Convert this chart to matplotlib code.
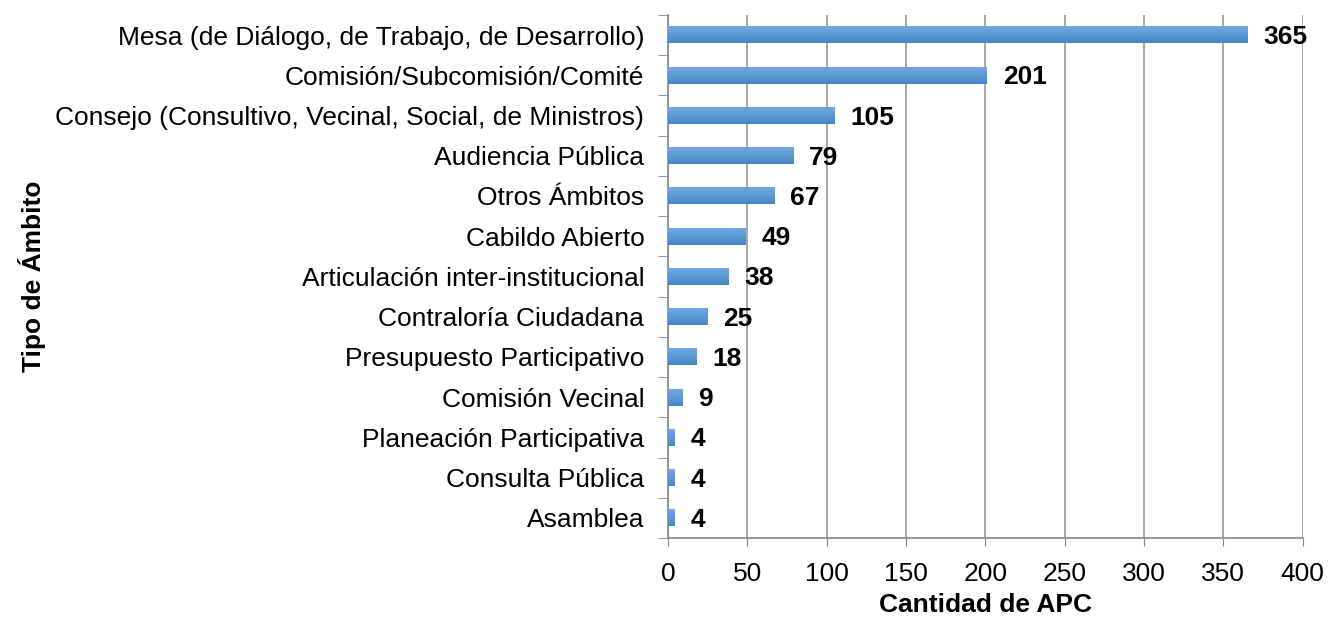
import numpy as np
import matplotlib
matplotlib.use("Agg")
import matplotlib.pyplot as plt
from matplotlib.colors import LinearSegmentedColormap

plt.rcParams['font.family'] = ['Liberation Sans', 'DejaVu Sans']

# data (top to bottom as shown)
categories = [
    "Mesa (de Diálogo, de Trabajo, de Desarrollo)",
    "Comisión/Subcomisión/Comité",
    "Consejo (Consultivo, Vecinal, Social, de Ministros)",
    "Audiencia Pública",
    "Otros Ámbitos",
    "Cabildo Abierto",
    "Articulación inter-institucional",
    "Contraloría Ciudadana",
    "Presupuesto Participativo",
    "Comisión Vecinal",
    "Planeación Participativa",
    "Consulta Pública",
    "Asamblea",
]
values = [365, 201, 105, 79, 67, 49, 38, 25, 18, 9, 4, 4, 4]
xticks = [0, 50, 100, 150, 200, 250, 300, 350, 400]

fig = plt.figure(figsize=(13.28, 6.18), dpi=100)
ax = fig.add_axes([0.503, 0.1294, 0.478, 0.8465])

n = len(categories)
ypos = np.arange(n)[::-1]
bar_h = 0.42

# gradient fill for bars: lighter top, darker bottom
cmap = LinearSegmentedColormap.from_list("barblue", ["#4586c9", "#72aae0"])
grad = np.linspace(0, 1, 64).reshape(-1, 1)

for y, v in zip(ypos, values):
    ax.imshow(grad, extent=[0, v, y - bar_h / 2, y + bar_h / 2], aspect='auto',
              cmap=cmap, origin='lower', zorder=3, interpolation='bicubic')
    ax.text(v + 10, y - 0.05, str(v), va='center', ha='left', fontsize=19,
            fontweight='bold', color='black', zorder=4)

ax.set_xlim(0, 400)
ax.set_ylim(-0.5, n - 0.5)
ax.set_aspect('auto')

ax.set_xticks(xticks)
ax.set_xticklabels([str(t) for t in xticks], fontsize=19)
ax.set_yticks(ypos)
ax.set_yticklabels(categories, fontsize=19)
ax.tick_params(axis='y', length=0, pad=17)
ax.tick_params(axis='x', length=6, color='#888888', pad=11)

# ticks between categories on y axis
ax.set_yticks(np.arange(-0.5, n, 1.0), minor=True)
ax.tick_params(axis='y', which='minor', length=7, color='#888888')

ax.grid(axis='x', color='#999999', linewidth=1.2, zorder=0)
ax.set_axisbelow(True)

for s in ['top', 'right']:
    ax.spines[s].set_visible(False)
ax.spines['left'].set_color('#888888')
ax.spines['bottom'].set_color('#888888')
ax.spines['left'].set_linewidth(1.2)
ax.spines['bottom'].set_linewidth(1.2)

ax.set_xlabel("Cantidad de APC", fontsize=19, fontweight='bold', labelpad=5)
fig.text(0.024, 0.553, "Tipo de Ámbito", rotation=90, fontsize=19,
         fontweight='bold', va='center', ha='center')

fig.savefig("out.png", dpi=100)
